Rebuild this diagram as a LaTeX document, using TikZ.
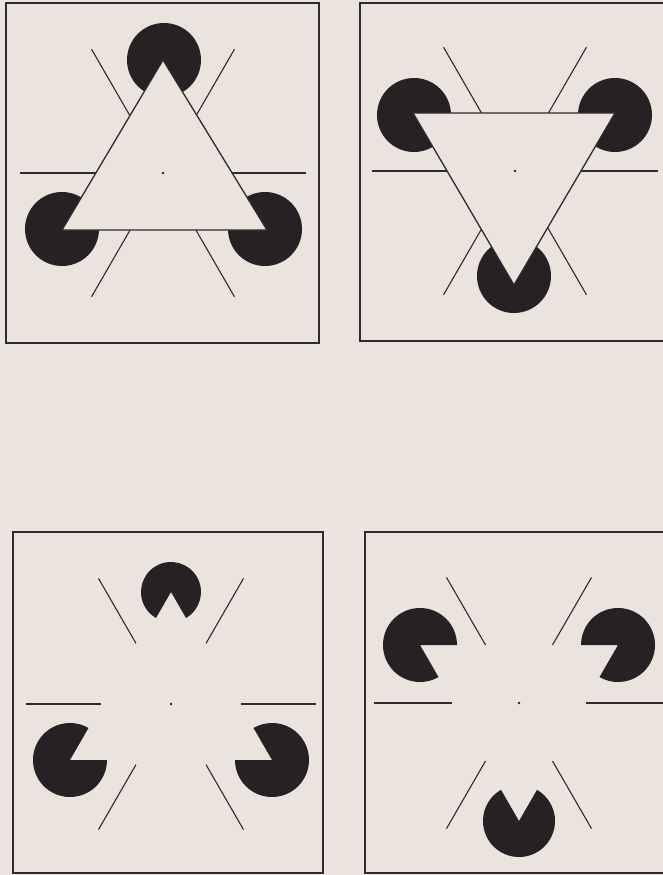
\documentclass[tikz,border=0pt]{standalone}
\definecolor{paper}{RGB}{234,227,222}
\definecolor{ink}{RGB}{38,33,35}
\definecolor{lineink}{RGB}{48,43,43}
\tikzset{
  panelbox/.style={draw=lineink, line width=1.4pt},
  disc/.style={fill=ink},
  ray/.style={draw=lineink, line width=1.1pt},
  realtri/.style={fill=paper, draw=lineink, line width=1.3pt, line join=miter},
  cdot/.style={fill=ink}
}
\newcommand\pacman[4]{% cx, cy, radius, wedge start angle (wedge is 60 deg)
  \fill[disc] (#1,#2) -- ++({#4+60}:#3) arc[start angle={#4+60}, end angle={#4+360}, radius=#3] -- cycle;}
\newcommand\raystar[4]{% cx, cy, rin, rout
  \begin{scope}[shift={(#1,#2)}]
    \foreach \a in {0,60,...,300} \draw[ray] (\a:#3) -- (\a:#4);
  \end{scope}}
\begin{document}
\begin{tikzpicture}[x=1pt,y=1pt]
\useasboundingbox (0,0) rectangle (663,-875);
\fill[paper] (0,0) rectangle (663,-875);
\clip (0,0) rectangle (663,-875);

% ---------- Panel 1 (top left): real upright triangle ----------
\draw[panelbox] (6,-3) rectangle (319,-343);
\coordinate (p1c) at (163,-173);
\fill[disc] (164,-60) circle (37);
\fill[disc] (62,-229) circle (37);
\fill[disc] (265,-229) circle (37);
\raystar{163}{-173}{20}{143}
\draw[realtri] (163,-60) -- (62,-230) -- (267,-230) -- cycle;
\fill[cdot] (p1c) circle (1.3);

% ---------- Panel 2 (top right): real inverted triangle ----------
\draw[panelbox] (360,-3) rectangle (680,-341);
\coordinate (p2c) at (515,-171);
\fill[disc] (414,-115) circle (37);
\fill[disc] (615,-115) circle (37);
\fill[disc] (514,-276) circle (37);
\raystar{515}{-171}{20}{143}
\draw[realtri] (413,-113) -- (615,-113) -- (514,-285) -- cycle;
\fill[cdot] (p2c) circle (1.3);

% ---------- Panel 3 (bottom left): illusory upright triangle ----------
\draw[panelbox] (13,-532) rectangle (323,-873);
\coordinate (p3c) at (171,-704);
\pacman{171}{-592}{30}{240}
\pacman{70}{-760}{37}{0}
\pacman{272}{-760}{37}{120}
\raystar{171}{-704}{70}{145}
\fill[cdot] (p3c) circle (1.3);

% ---------- Panel 4 (bottom right): illusory inverted triangle ----------
\draw[panelbox] (365,-532) rectangle (680,-873);
\coordinate (p4c) at (519,-703);
\pacman{420}{-645}{37}{300}
\pacman{618}{-645}{37}{180}
\pacman{519}{-821}{36}{60}
\raystar{519}{-703}{67}{145}
\fill[cdot] (p4c) circle (1.3);
\end{tikzpicture}
\end{document}
